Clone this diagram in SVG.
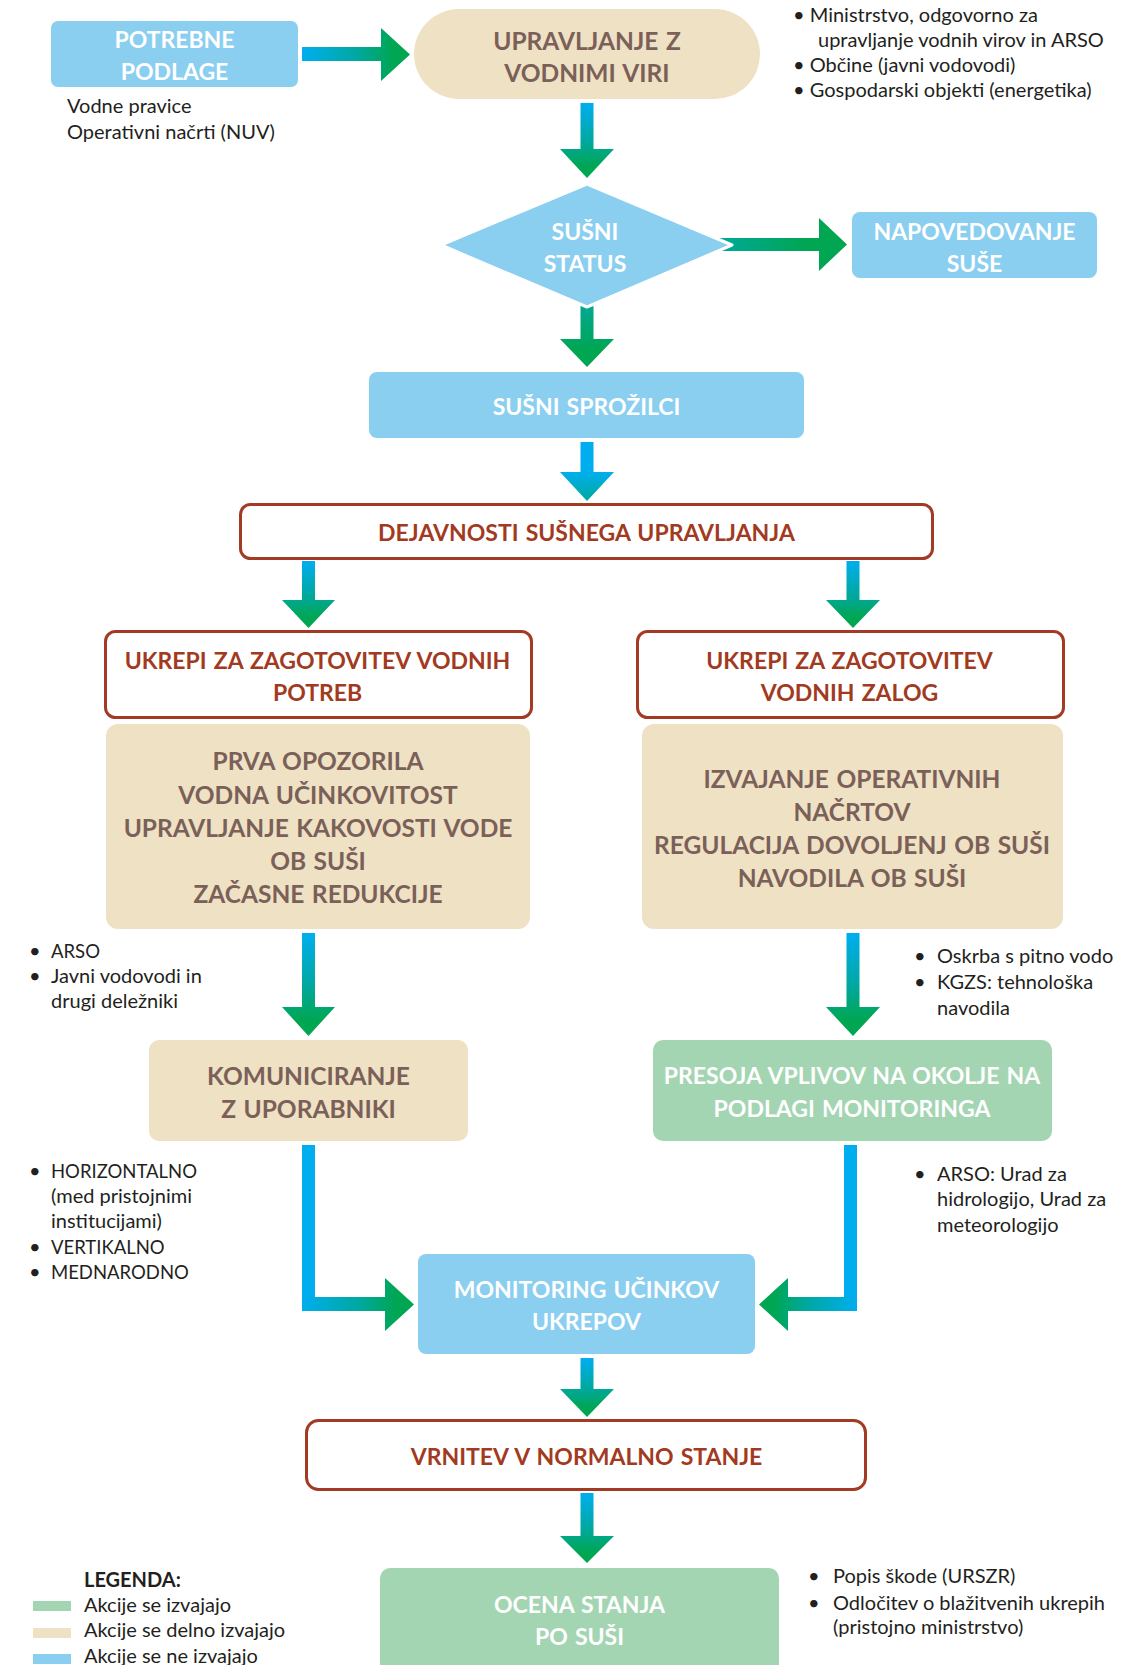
<svg xmlns="http://www.w3.org/2000/svg" width="1138" height="1665" viewBox="0 0 1138 1665">
<style>
.blue{fill:#8ACEF0}
.beige{fill:#EFE1C4}
.green{fill:#A4D5B2}
.red{fill:#FFFFFF;stroke:#A33A23;stroke-width:3}
.h{font-family:Lato,"Liberation Sans",sans-serif;font-weight:700;font-size:23px;text-anchor:middle;word-spacing:1.5px}
.hw{fill:#FFFFFF}
.hb{fill:#7A6058;font-size:24.5px}
.hr{fill:#A23A22}
.t{font-family:Lato,"Liberation Sans",sans-serif;font-size:20px;fill:#231F20}
.c{font-size:18.5px}
.lb{font-weight:700}
</style>
<defs>
<linearGradient id="gV" x1="0" y1="0" x2="0" y2="1">
<stop offset="0" stop-color="#00AEEF"/><stop offset="0.5" stop-color="#00A8A2"/><stop offset="0.85" stop-color="#00A651"/>
</linearGradient>
<linearGradient id="gVb" x1="0" y1="0" x2="0" y2="1">
<stop offset="0" stop-color="#00AEEF"/><stop offset="0.5" stop-color="#00AEEF"/><stop offset="1" stop-color="#00A99D"/>
</linearGradient>
<linearGradient id="gVt" x1="0" y1="0" x2="0" y2="1">
<stop offset="0" stop-color="#00A99D"/><stop offset="0.75" stop-color="#00A651"/>
</linearGradient>
<linearGradient id="gH" x1="0" y1="0" x2="1" y2="0">
<stop offset="0" stop-color="#00AEEF"/><stop offset="0.5" stop-color="#00A8A2"/><stop offset="0.85" stop-color="#00A651"/>
</linearGradient>
<linearGradient id="gHt" x1="0" y1="0" x2="1" y2="0">
<stop offset="0" stop-color="#00A99D"/><stop offset="0.7" stop-color="#00A651"/>
</linearGradient>
<linearGradient id="gHL" x1="1" y1="0" x2="0" y2="0">
<stop offset="0" stop-color="#00AEEF"/><stop offset="0.5" stop-color="#00A8A2"/><stop offset="0.85" stop-color="#00A651"/>
</linearGradient>
</defs>

<g id="connectors">
<polygon fill="url(#gH)" points="302,47 381,47 381,28 410,54.5 381,81 381,61 302,61"/>
<polygon fill="url(#gV)" points="580.5,103 593.5,103 593.5,149 614,149 587,178 560,149 580.5,149"/>
<polygon fill="url(#gHt)" points="715,238 819,238 819,218 847,244.5 819,271 819,251 715,251"/>
<polygon fill="url(#gVt)" points="580.5,300 593.5,300 593.5,339 614,339 587,367 560,339 580.5,339"/>
<polygon fill="url(#gVb)" points="580.5,442 593.5,442 593.5,472 614,472 587,501 560,472 580.5,472"/>
<polygon fill="url(#gV)" points="302,561 315,561 315,600 335,600 308.5,628 282,600 302,600"/>
<polygon fill="url(#gV)" points="846.5,561 859.5,561 859.5,600 880,600 853,628 826,600 846.5,600"/>
<polygon fill="url(#gV)" points="302,933 315,933 315,1007 335,1007 308.5,1036 282,1007 302,1007"/>
<polygon fill="url(#gV)" points="846.5,933 859.5,933 859.5,1007 880,1007 853,1036 826,1007 846.5,1007"/>
<rect x="302" y="1145" width="13" height="166" fill="#00AEEF"/>
<polygon fill="url(#gH)" points="302,1297 385,1297 385,1278 414,1304.5 385,1331 385,1311 302,1311"/>
<rect x="844" y="1145" width="13" height="166" fill="#00AEEF"/>
<polygon fill="url(#gHL)" points="857,1297 788,1297 788,1278 759,1304.5 788,1331 788,1311 857,1311"/>
<polygon fill="url(#gV)" points="580.5,1358 593.5,1358 593.5,1389 614,1389 587,1417 560,1389 580.5,1389"/>
<polygon fill="url(#gV)" points="580.5,1493 593.5,1493 593.5,1536 614,1536 587,1563 560,1536 580.5,1536"/>
</g>

<g id="potrebne-podlage">
<rect class="blue" x="51" y="21" width="247" height="66" rx="7"/>
<text class="h hw" x="174.5" y="48">POTREBNE</text>
<text class="h hw" x="174.5" y="80">PODLAGE</text>
</g>
<g id="potrebne-notes">
<text class="t" x="67" y="113">Vodne pravice</text>
<text class="t" x="67" y="139">Operativni načrti (NUV)</text>
</g>

<g id="upravljanje">
<rect class="beige" x="414" y="9" width="346" height="90" rx="45"/>
<text class="h hb" x="587" y="50">UPRAVLJANJE Z</text>
<text class="h hb" x="587" y="82">VODNIMI VIRI</text>
</g>
<g id="upravljanje-notes">
<text class="t" x="793" y="22">• Ministrstvo, odgovorno za</text>
<text class="t" x="818" y="47">upravljanje vodnih virov in ARSO</text>
<text class="t" x="793" y="72">• Občine (javni vodovodi)</text>
<text class="t" x="793" y="97">• Gospodarski objekti (energetika)</text>
</g>

<g id="susni-status">
<polygon class="blue" stroke="#FFFFFF" stroke-width="3" stroke-linejoin="round" points="441,245 587,184 732,245 587,307"/>
<text class="h hw" x="585" y="240">SUŠNI</text>
<text class="h hw" x="585" y="272">STATUS</text>
</g>

<g id="napovedovanje">
<rect class="blue" x="852" y="212" width="245" height="66" rx="8"/>
<text class="h hw" x="974.5" y="240">NAPOVEDOVANJE</text>
<text class="h hw" x="974.5" y="272">SUŠE</text>
</g>

<g id="susni-sprozilci">
<rect class="blue" x="369" y="372" width="435" height="66" rx="8"/>
<text class="h hw" x="586.5" y="415">SUŠNI SPROŽILCI</text>
</g>

<g id="dejavnosti">
<rect class="red" x="240.5" y="504.5" width="692" height="54" rx="10"/>
<text class="h hr" x="586.5" y="541">DEJAVNOSTI SUŠNEGA UPRAVLJANJA</text>
</g>

<g id="ukrepi-potreb">
<rect class="red" x="105.5" y="631.5" width="426" height="86" rx="10"/>
<text class="h hr" x="317.5" y="669">UKREPI ZA ZAGOTOVITEV VODNIH</text>
<text class="h hr" x="317.5" y="701">POTREB</text>
</g>

<g id="ukrepi-zalog">
<rect class="red" x="637.5" y="631.5" width="426" height="86" rx="10"/>
<text class="h hr" x="849.5" y="669">UKREPI ZA ZAGOTOVITEV</text>
<text class="h hr" x="849.5" y="701">VODNIH ZALOG</text>
</g>

<g id="prva-opozorila">
<rect class="beige" x="106" y="724" width="424" height="205" rx="12"/>
<text class="h hb" x="318" y="770">PRVA OPOZORILA</text>
<text class="h hb" x="318" y="804">VODNA UČINKOVITOST</text>
<text class="h hb" x="318" y="837">UPRAVLJANJE KAKOVOSTI VODE</text>
<text class="h hb" x="318" y="870">OB SUŠI</text>
<text class="h hb" x="318" y="903">ZAČASNE REDUKCIJE</text>
</g>

<g id="izvajanje">
<rect class="beige" x="642" y="724" width="421" height="205" rx="12"/>
<text class="h hb" x="852" y="788">IZVAJANJE OPERATIVNIH</text>
<text class="h hb" x="852" y="821">NAČRTOV</text>
<text class="h hb" x="852" y="854">REGULACIJA DOVOLJENJ OB SUŠI</text>
<text class="h hb" x="852" y="887">NAVODILA OB SUŠI</text>
</g>

<g id="notes-left-1">
<text class="t" x="29" y="958">•</text><text class="t c" x="51" y="958">ARSO</text>
<text class="t" x="29" y="983">•</text><text class="t" x="51" y="983">Javni vodovodi in</text>
<text class="t" x="51" y="1008">drugi deležniki</text>
</g>
<g id="notes-right-1">
<text class="t" x="914" y="963">•</text><text class="t" x="937" y="963">Oskrba s pitno vodo</text>
<text class="t" x="914" y="989">•</text><text class="t" x="937" y="989">KGZS: tehnološka</text>
<text class="t" x="937" y="1015">navodila</text>
</g>

<g id="komuniciranje">
<rect class="beige" x="149" y="1040" width="319" height="101" rx="10"/>
<text class="h hb" x="308.5" y="1085">KOMUNICIRANJE</text>
<text class="h hb" x="308.5" y="1118">Z UPORABNIKI</text>
</g>

<g id="presoja">
<rect class="green" x="653" y="1040" width="399" height="101" rx="10"/>
<text class="h hw" x="852" y="1084">PRESOJA VPLIVOV NA OKOLJE NA</text>
<text class="h hw" x="852" y="1117">PODLAGI MONITORINGA</text>
</g>

<g id="notes-left-2">
<text class="t" x="29" y="1178">•</text><text class="t c" x="51" y="1178">HORIZONTALNO</text>
<text class="t" x="51" y="1203">(med pristojnimi</text>
<text class="t" x="51" y="1228">institucijami)</text>
<text class="t" x="29" y="1254">•</text><text class="t c" x="51" y="1254">VERTIKALNO</text>
<text class="t" x="29" y="1279">•</text><text class="t c" x="51" y="1279">MEDNARODNO</text>
</g>
<g id="notes-right-2">
<text class="t" x="914" y="1181">•</text><text class="t" x="937" y="1181">ARSO: Urad za</text>
<text class="t" x="937" y="1206">hidrologijo, Urad za</text>
<text class="t" x="937" y="1232">meteorologijo</text>
</g>

<g id="monitoring">
<rect class="blue" x="418" y="1254" width="337" height="100" rx="8"/>
<text class="h hw" x="586.5" y="1298">MONITORING UČINKOV</text>
<text class="h hw" x="586.5" y="1330">UKREPOV</text>
</g>

<g id="vrnitev">
<rect class="red" x="306.5" y="1420.5" width="559" height="69" rx="12"/>
<text class="h hr" x="586.5" y="1465">VRNITEV V NORMALNO STANJE</text>
</g>

<g id="ocena">
<rect class="green" x="380" y="1568" width="399" height="120" rx="10"/>
<text class="h hw" x="579.5" y="1613">OCENA STANJA</text>
<text class="h hw" x="579.5" y="1645">PO SUŠI</text>
</g>
<g id="notes-bottom">
<text class="t" x="808" y="1583">•</text><text class="t" x="833" y="1583">Popis škode (URSZR)</text>
<text class="t" x="808" y="1610">•</text><text class="t" x="833" y="1610">Odločitev o blažitvenih ukrepih</text>
<text class="t" x="833" y="1634">(pristojno ministrstvo)</text>
</g>

<g id="legend">
<text class="t lb" x="84" y="1587">LEGENDA:</text>
<rect class="green" x="33" y="1601" width="38" height="10"/>
<text class="t" x="84" y="1612">Akcije se izvajajo</text>
<rect class="beige" x="33" y="1628" width="38" height="10"/>
<text class="t" x="84" y="1637">Akcije se delno izvajajo</text>
<rect class="blue" x="33" y="1654" width="38" height="10"/>
<text class="t" x="84" y="1663">Akcije se ne izvajajo</text>
</g>
</svg>
